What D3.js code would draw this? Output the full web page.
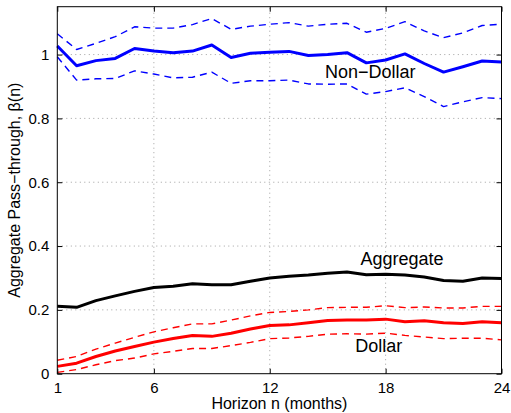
<!DOCTYPE html>
<html>
<head>
<meta charset="utf-8">
<script src="https://cdn.jsdelivr.net/npm/d3@7"></script>
<style>
  html, body { margin: 0; padding: 0; background: #fff; }
  svg { display: block; font-family: "Liberation Sans", Arial, Helvetica, sans-serif; }
</style>
</head>
<body>
<svg id="chart" width="511" height="413"></svg>
<script>
// Horizon in months
const horizon = d3.range(1, 25);

// Non-dollar pass-through with confidence band
const nonDollar      = [1.027,0.965,0.981,0.988,1.019,1.011,1.006,1.011,1.030,0.991,1.004,1.007,1.010,0.997,1.000,1.006,0.974,0.983,1.002,0.972,0.945,0.962,0.980,0.977];
const nonDollarUpper = [1.065,1.016,1.035,1.056,1.087,1.083,1.083,1.094,1.113,1.079,1.089,1.095,1.100,1.089,1.095,1.098,1.070,1.082,1.103,1.074,1.053,1.068,1.091,1.095];
const nonDollarLower = [0.993,0.920,0.924,0.925,0.949,0.939,0.927,0.929,0.945,0.910,0.918,0.918,0.920,0.908,0.907,0.908,0.876,0.884,0.896,0.868,0.837,0.852,0.865,0.862];

// Aggregate pass-through
const aggregate = [0.211,0.208,0.229,0.244,0.258,0.270,0.274,0.282,0.279,0.279,0.290,0.300,0.305,0.309,0.315,0.319,0.310,0.312,0.309,0.303,0.292,0.290,0.300,0.298];

// Dollar pass-through with confidence band
const dollar      = [0.023,0.033,0.054,0.071,0.085,0.099,0.110,0.120,0.117,0.127,0.140,0.151,0.153,0.160,0.167,0.168,0.168,0.171,0.163,0.166,0.160,0.157,0.163,0.160];
const dollarUpper = [0.042,0.054,0.077,0.096,0.114,0.131,0.144,0.156,0.156,0.168,0.181,0.192,0.195,0.200,0.207,0.208,0.208,0.213,0.207,0.209,0.206,0.206,0.211,0.211];
const dollarLower = [0.004,0.013,0.028,0.041,0.049,0.062,0.070,0.079,0.079,0.088,0.098,0.110,0.112,0.117,0.124,0.125,0.124,0.127,0.120,0.115,0.110,0.111,0.111,0.106];

// Axis ticks
const xTicks = [1, 6, 12, 18, 24];
const yTicks = [0, 0.2, 0.4, 0.6, 0.8, 1];
const yTickLabels = ["0", "0.2", "0.4", "0.6", "0.8", "1"];

// Series labels
const labels = [
  { text: "Non\u2212Dollar", n: 17.2,  v: 0.927 },
  { text: "Aggregate",        n: 18.85, v: 0.341 },
  { text: "Dollar",           n: 17.65, v: 0.068 }
];

const svg = d3.select("#chart");
const margin = { left: 57.3, right: 9.5, top: 6.7, bottom: 39.3 };
const W = 511, H = 413;

const x = d3.scaleLinear().domain([1, 24]).range([margin.left, W - margin.right]);
const y = d3.scaleLinear().domain([0, 1.15]).range([H - margin.bottom, margin.top]);

const g = svg.append("g");

// Dotted grid
g.append("g").selectAll("line").data(xTicks.slice(1, -1)).join("line")
  .attr("x1", d => x(d)).attr("x2", d => x(d))
  .attr("y1", y(0)).attr("y2", y(1.15))
  .attr("stroke", "#a0a0a0").attr("stroke-width", 1)
  .attr("stroke-dasharray", "1,3.5");
g.append("g").selectAll("line").data(yTicks.slice(1)).join("line")
  .attr("x1", x(1)).attr("x2", x(24))
  .attr("y1", d => y(d)).attr("y2", d => y(d))
  .attr("stroke", "#a0a0a0").attr("stroke-width", 1)
  .attr("stroke-dasharray", "1,3.5");

// Series lines
const line = vals => d3.line().x((d, i) => x(horizon[i])).y(d => y(d))(vals);
const series = [
  { vals: nonDollarUpper, color: "#0000ff", w: 1.4, dash: "7,5" },
  { vals: nonDollarLower, color: "#0000ff", w: 1.4, dash: "7,5" },
  { vals: nonDollar,      color: "#0000ff", w: 3,   dash: null },
  { vals: aggregate,      color: "#000000", w: 3,   dash: null },
  { vals: dollarUpper,    color: "#ff0000", w: 1.4, dash: "7,5" },
  { vals: dollarLower,    color: "#ff0000", w: 1.4, dash: "7,5" },
  { vals: dollar,         color: "#ff0000", w: 3,   dash: null }
];
g.append("g").selectAll("path").data(series).join("path")
  .attr("d", d => line(d.vals))
  .attr("fill", "none")
  .attr("stroke", d => d.color)
  .attr("stroke-width", d => d.w)
  .attr("stroke-dasharray", d => d.dash)
  .attr("stroke-linejoin", "round");

// Axes with inward ticks on all four sides
const tickLen = 5;
const axB = d3.axisBottom(x).tickValues(xTicks).tickSizeInner(-tickLen).tickSizeOuter(0).tickPadding(9);
const axT = d3.axisTop(x).tickValues(xTicks).tickSizeInner(-tickLen).tickSizeOuter(0).tickFormat("");
const axL = d3.axisLeft(y).tickValues(yTicks).tickSizeInner(-tickLen).tickSizeOuter(0).tickPadding(8)
  .tickFormat((d, i) => yTickLabels[i]);
const axR = d3.axisRight(y).tickValues(yTicks).tickSizeInner(-tickLen).tickSizeOuter(0).tickFormat("");

function style(sel) {
  sel.select(".domain").remove();
  sel.selectAll(".tick line").attr("stroke", "#000");
  sel.selectAll(".tick text").attr("fill", "#000").style("font-size", "15px")
    .style("font-family", "'Liberation Sans', Arial, sans-serif");
}
g.append("g").attr("transform", `translate(0,${y(0)})`).call(axB).call(style);
g.append("g").attr("transform", `translate(0,${y(1.15)})`).call(axT).call(style);
g.append("g").attr("transform", `translate(${x(1)},0)`).call(axL).call(style);
g.append("g").attr("transform", `translate(${x(24)},0)`).call(axR).call(style);

// Box
g.append("rect")
  .attr("x", x(1)).attr("y", y(1.15))
  .attr("width", x(24) - x(1)).attr("height", y(0) - y(1.15))
  .attr("fill", "none").attr("stroke", "#000").attr("stroke-width", 1);

// Series labels
g.append("g").selectAll("text").data(labels).join("text")
  .attr("x", d => x(d.n)).attr("y", d => y(d.v))
  .attr("text-anchor", "middle")
  .style("font-size", "18px").attr("fill", "#000")
  .text(d => d.text);

// Axis titles
svg.append("text")
  .attr("x", (x(1) + x(24)) / 2).attr("y", 409)
  .attr("text-anchor", "middle").style("font-size", "16px")
  .text("Horizon n (months)");
svg.append("text")
  .attr("transform", `translate(20,${(y(0) + y(1.15)) / 2}) rotate(-90)`)
  .attr("text-anchor", "middle").style("font-size", "16px")
  .text("Aggregate Pass\u2212through, \u03b2(n)");
</script>
</body>
</html>
